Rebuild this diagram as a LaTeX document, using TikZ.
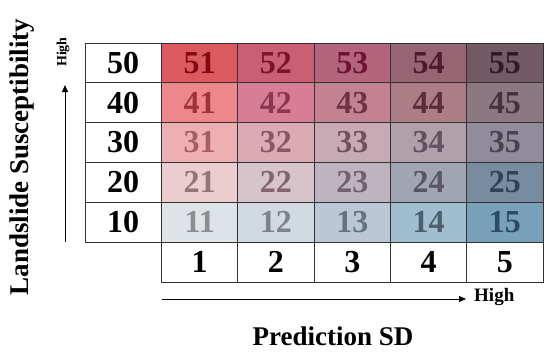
\documentclass[tikz,border=0pt]{standalone}
\usepackage{fontspec}
\setmainfont{Liberation Serif}
\usetikzlibrary{arrows.meta}
\definecolor{f51}{RGB}{218,90,95}\definecolor{t51}{RGB}{130,10,20}
\definecolor{f52}{RGB}{200,95,115}\definecolor{t52}{RGB}{120,20,45}
\definecolor{f53}{RGB}{180,100,125}\definecolor{t53}{RGB}{110,20,50}
\definecolor{f54}{RGB}{150,100,115}\definecolor{t54}{RGB}{80,25,45}
\definecolor{f55}{RGB}{115,90,100}\definecolor{t55}{RGB}{50,25,35}
\definecolor{f41}{RGB}{238,135,140}\definecolor{t41}{RGB}{160,50,60}
\definecolor{f42}{RGB}{215,125,150}\definecolor{t42}{RGB}{140,55,80}
\definecolor{f43}{RGB}{195,130,145}\definecolor{t43}{RGB}{110,50,70}
\definecolor{f44}{RGB}{170,125,135}\definecolor{t44}{RGB}{90,45,60}
\definecolor{f45}{RGB}{140,120,128}\definecolor{t45}{RGB}{70,50,60}
\definecolor{f31}{RGB}{238,175,178}\definecolor{t31}{RGB}{165,95,100}
\definecolor{f32}{RGB}{220,170,180}\definecolor{t32}{RGB}{140,85,100}
\definecolor{f33}{RGB}{200,170,180}\definecolor{t33}{RGB}{115,80,95}
\definecolor{f34}{RGB}{175,160,170}\definecolor{t34}{RGB}{100,80,95}
\definecolor{f35}{RGB}{145,140,155}\definecolor{t35}{RGB}{75,65,80}
\definecolor{f21}{RGB}{235,205,208}\definecolor{t21}{RGB}{150,115,120}
\definecolor{f22}{RGB}{215,195,202}\definecolor{t22}{RGB}{130,100,110}
\definecolor{f23}{RGB}{190,180,192}\definecolor{t23}{RGB}{115,95,110}
\definecolor{f24}{RGB}{160,165,180}\definecolor{t24}{RGB}{90,85,100}
\definecolor{f25}{RGB}{120,140,160}\definecolor{t25}{RGB}{50,65,85}
\definecolor{f11}{RGB}{222,227,232}\definecolor{t11}{RGB}{140,140,145}
\definecolor{f12}{RGB}{210,218,225}\definecolor{t12}{RGB}{125,130,140}
\definecolor{f13}{RGB}{185,200,212}\definecolor{t13}{RGB}{100,115,130}
\definecolor{f14}{RGB}{160,190,205}\definecolor{t14}{RGB}{75,95,110}
\definecolor{f15}{RGB}{120,160,185}\definecolor{t15}{RGB}{45,75,100}
\definecolor{gridline}{RGB}{50,50,50}
\begin{document}
\begin{tikzpicture}[x=1pt,y=-1pt,
  cellbox/.style={draw=gridline,line width=0.8pt,minimum width=76.3pt,minimum height=39.8pt,inner sep=0pt,
    font=\fontsize{32}{32}\selectfont\bfseries},
  axislabel/.style={font=\fontsize{27}{27}\selectfont\bfseries,inner sep=0pt},
  highlabel/.style={font=\fontsize{#1}{#1}\selectfont\bfseries,inner sep=0pt},
  axisarrow/.style={line width=0.8pt,-{Triangle[length=7pt,width=6pt]}}]
\useasboundingbox (0,0) rectangle (550,354);
% label column
\foreach \r/\v in {1/50,2/40,3/30,4/20,5/10}{
  \node[cellbox,fill=white] (L\v) at (123.2,{43+(\r-0.5)*39.8}) {\v};
}
% bottom row
\foreach \c in {1,...,5}{
  \node[cellbox,fill=white] (B\c) at ({161.5+(\c-0.5)*76.3},262) {\c};
}
% colored cells
\foreach \r/\rv in {1/5,2/4,3/3,4/2,5/1}{
  \foreach \c in {1,...,5}{
    \node[cellbox,fill=f\rv\c,text=t\rv\c] (c\rv\c) at ({161.5+(\c-0.5)*76.3},{43+(\r-0.5)*39.8}) {\rv\c};
  }
}
% arrows
\coordinate (vs) at (65,242);
\coordinate (ve) at (65,85);
\coordinate (hs) at (161.5,299);
\coordinate (he) at (466,299);
\draw[axisarrow] (vs) -- (ve);
\draw[axisarrow] (hs) -- (he);
\node[highlabel=14,rotate=90] (vhigh) at (63,52) {High};
\node[highlabel=19,anchor=west] (hhigh) at (474,297) {High};
\node[axislabel,rotate=90] (ylab) at (22,157) {Landslide Susceptibility};
\node[axislabel] (xlab) at (333,336) {Prediction SD};
\end{tikzpicture}
\end{document}
